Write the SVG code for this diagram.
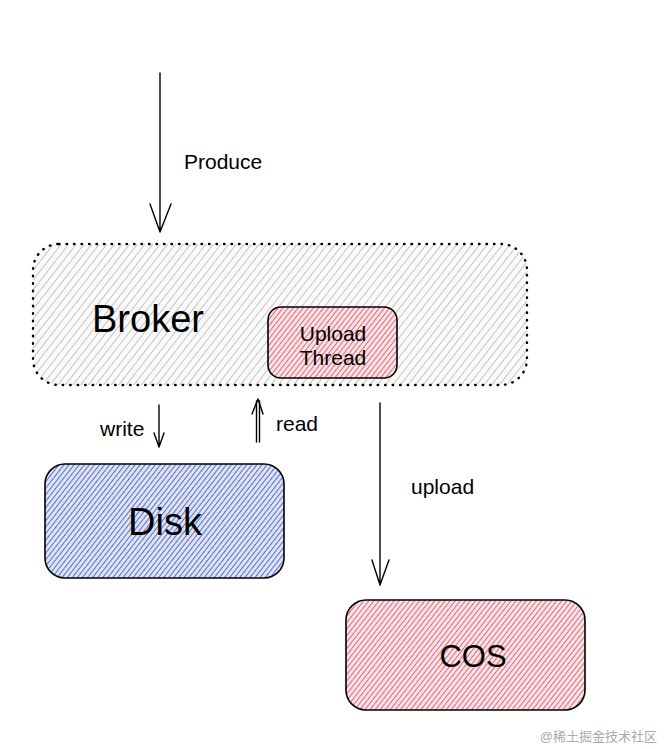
<svg xmlns="http://www.w3.org/2000/svg" width="666" height="749" viewBox="0 0 666 749">
<style>
.t{font-family:"Liberation Sans",Arial,sans-serif;fill:#000}
.line{stroke:#000;stroke-width:1.4;fill:none;stroke-linecap:round;stroke-linejoin:round}
</style>
<defs>
<pattern id="hGray" width="6" height="6" patternUnits="userSpaceOnUse" patternTransform="rotate(38)">
<rect width="6" height="6" fill="#fafafa"/><line x1="0.5" y1="0" x2="0.5" y2="6" stroke="#c4c4c4" stroke-width="1"/>
</pattern>
<pattern id="hBlue" width="4" height="4" patternUnits="userSpaceOnUse" patternTransform="rotate(38)">
<rect width="4" height="4" fill="#dfe4f5"/><line x1="0.5" y1="0" x2="0.5" y2="4" stroke="#5c73c4" stroke-width="1.1"/>
</pattern>
<pattern id="hRed" width="4" height="4" patternUnits="userSpaceOnUse" patternTransform="rotate(38)">
<rect width="4" height="4" fill="#fbe4e7"/><line x1="0.5" y1="0" x2="0.5" y2="4" stroke="#dd6e7c" stroke-width="1.1"/>
</pattern>
</defs>
<rect width="666" height="749" fill="#fff"/>
<g id="broker">
<rect x="33" y="244" width="494" height="141" rx="26" fill="url(#hGray)" stroke="#000" stroke-width="2.4" stroke-dasharray="0.5 7" stroke-linecap="round"/>
<text class="t" x="92" y="332" font-size="38">Broker</text>
</g>
<g id="upload-thread">
<rect x="268" y="307" width="129" height="71" rx="13" fill="url(#hRed)" stroke="#000" stroke-width="1.6"/>
<text class="t" x="333" y="341" font-size="21" text-anchor="middle">Upload</text>
<text class="t" x="333" y="365" font-size="21" text-anchor="middle">Thread</text>
</g>
<g id="disk">
<rect x="45" y="464" width="239" height="114" rx="20" fill="url(#hBlue)" stroke="#000" stroke-width="1.6"/>
<text class="t" x="165" y="535" font-size="38" text-anchor="middle">Disk</text>
</g>
<g id="cos">
<rect x="346" y="600" width="239" height="110" rx="20" fill="url(#hRed)" stroke="#000" stroke-width="1.6"/>
<text class="t" x="473" y="667" font-size="31" text-anchor="middle">COS</text>
</g>
<g id="connectors">
<path class="line" d="M160 73 L160 231 M150 204 L160 232 L171 204"/>
<path class="line" d="M159 405 L159 446 M154 433 L159 447 L164 433"/>
<path class="line" stroke-width="1" d="M256.5 442 L256.5 401 M259.5 442 L259.5 401"/>
<path class="line" d="M252 414 L258 399 L263 414"/>
<path class="line" d="M380 403 L380 584 M372 560 L380 585 L389 560"/>
</g>
<g id="labels">
<text class="t" x="184" y="169" font-size="21">Produce</text>
<text class="t" x="100" y="436" font-size="21">write</text>
<text class="t" x="276" y="431" font-size="21">read</text>
<text class="t" x="411" y="494" font-size="21">upload</text>
<text x="657" y="741" font-size="13" fill="#aaa" text-anchor="end" font-family="'Liberation Sans','Noto Sans CJK SC',sans-serif">@稀土掘金技术社区</text>
</g>
</svg>
